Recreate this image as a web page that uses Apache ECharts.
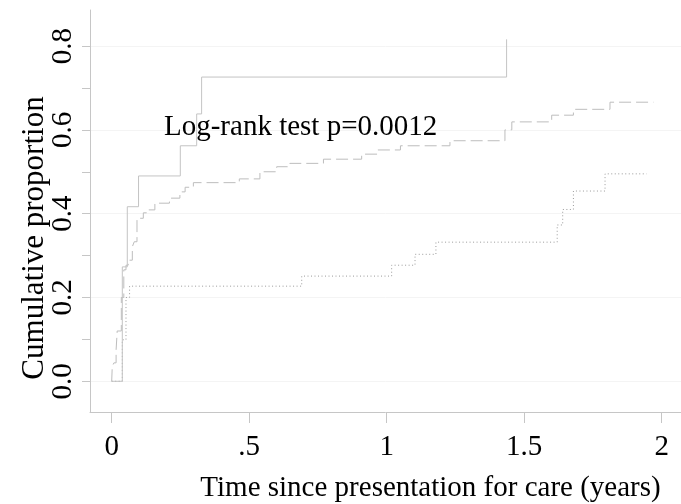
<!DOCTYPE html>
<html>
<head>
<meta charset="utf-8">
<script src="https://cdn.jsdelivr.net/npm/echarts@6/dist/echarts.min.js"></script>
<style>
  html, body { margin: 0; padding: 0; background: #fff; }
  #chart { width: 681px; height: 504px; }
</style>
</head>
<body>
<div id="chart"></div>
<script>
// Cumulative proportion step curves: [time in years, cumulative proportion]
const solidGroup = [
  [0, 0], [0.0386, 0.273], [0.0567, 0.4166], [0.0976, 0.49], [0.2495, 0.562],
  [0.309, 0.638], [0.327, 0.726], [1.436, 0.816]
];
const dashedGroup = [
  [0, 0], [0.002, 0.035], [0.008, 0.044], [0.016, 0.075], [0.02, 0.12],
  [0.035, 0.2], [0.044, 0.266], [0.052, 0.277], [0.06, 0.289], [0.075, 0.321],
  [0.082, 0.333], [0.092, 0.389], [0.115, 0.402], [0.127, 0.409], [0.157, 0.425],
  [0.21, 0.437], [0.248, 0.452], [0.267, 0.463], [0.297, 0.474], [0.464, 0.483],
  [0.539, 0.5], [0.6, 0.512], [0.648, 0.52], [0.77, 0.53], [0.909, 0.542],
  [0.968, 0.552], [1.05, 0.562], [1.23, 0.574], [1.43, 0.6], [1.455, 0.619],
  [1.6, 0.635], [1.679, 0.649], [1.812, 0.666], [1.97, 0.666]
];
const dottedGroup = [
  [0, 0], [0.0386, 0.099], [0.052, 0.2], [0.065, 0.227], [0.691, 0.251],
  [1.018, 0.277], [1.103, 0.303], [1.179, 0.332], [1.62, 0.373], [1.64, 0.41],
  [1.679, 0.454], [1.794, 0.495], [1.945, 0.495]
];

const xTicks = [0, 0.5, 1, 1.5, 2];
const xTickLabels = ['0', '.5', '1', '1.5', '2'];
const yTicks = [0, 0.2, 0.4, 0.6, 0.8];
const yTickLabels = ['0.0', '0.2', '0.4', '0.6', '0.8'];
const yMinorTicks = [0.1, 0.3, 0.5, 0.7];

const xTitle = 'Time since presentation for care (years)';
const yTitle = 'Cumulative proportion';
const testNote = 'Log-rank test p=0.0012';

const FONT = '"Liberation Serif", "Times New Roman", serif';
const AXIS_GREY = '#c6c6c6';

const chart = echarts.init(document.getElementById('chart'), null, { renderer: 'canvas' });

function stepSeries(name, data, color, type) {
  return {
    name, type: 'line', step: 'end', data,
    symbol: 'none', showSymbol: false, silent: true,
    lineStyle: { width: 1, color, type },
    animation: false
  };
}

chart.setOption({
  animation: false,
  backgroundColor: '#fff',
  grid: {
    left: 90, right: 0, top: 10, bottom: 92,
    containLabel: false, outerBoundsMode: 'none'
  },
  xAxis: {
    type: 'value', min: -0.0789, max: 2.0702,
    name: xTitle, nameLocation: 'middle', nameGap: 62, nameMoveOverlap: false,
    nameTextStyle: { fontFamily: FONT, fontSize: 29, color: '#000', padding: [0, 0, 0, 90] },
    axisLine: { show: true, onZero: false, lineStyle: { color: AXIS_GREY, width: 1 } },
    axisTick: { show: true, customValues: xTicks, length: 11, lineStyle: { color: AXIS_GREY } },
    axisLabel: {
      customValues: xTicks, margin: 21, fontFamily: FONT, fontSize: 29, color: '#000',
      formatter: v => xTickLabels[xTicks.indexOf(v)] ?? ''
    },
    splitLine: { show: false }
  },
  yAxis: [
    {
      type: 'value', min: -0.0733, max: 0.886, position: 'left',
      name: yTitle, nameLocation: 'middle', nameRotate: 90, nameGap: 40, nameMoveOverlap: false,
      nameTextStyle: { fontFamily: FONT, fontSize: 31, color: '#000', padding: [0, 54, 0, 0] },
      axisLine: { show: true, onZero: false, lineStyle: { color: AXIS_GREY, width: 1 } },
      axisTick: { show: true, customValues: yTicks, length: 8, lineStyle: { color: AXIS_GREY } },
      axisLabel: {
        customValues: yTicks, rotate: 90, margin: 12, fontFamily: FONT, fontSize: 29, color: '#000',
        formatter: v => yTickLabels[yTicks.indexOf(v)] ?? ''
      },
      splitLine: { show: true, lineStyle: { color: '#f4f4f4', width: 1 } }
    },
    {
      type: 'value', min: -0.0733, max: 0.886, position: 'left', offset: 0,
      axisLine: { show: false, onZero: false },
      axisTick: { show: true, customValues: yMinorTicks, length: 8, lineStyle: { color: AXIS_GREY } },
      axisLabel: { show: false },
      splitLine: { show: false }
    }
  ],
  graphic: [{
    type: 'text', left: 164, top: 113, z: 10,
    style: { text: testNote, font: '29px ' + FONT, fill: '#000' }
  }],
  series: [
    stepSeries('dotted', dottedGroup, '#9a9a9a', [1, 2.5]),
    stepSeries('dashed', dashedGroup, '#bdbdbd', [12, 5]),
    stepSeries('solid', solidGroup, '#c4c4c4', 'solid')
  ]
});
</script>
</body>
</html>
